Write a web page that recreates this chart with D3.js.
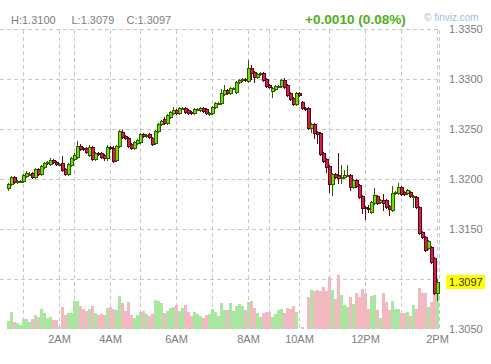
<!DOCTYPE html>
<html>
<head>
<meta charset="utf-8">
<script src="https://cdn.jsdelivr.net/npm/d3@7"></script>
<style>
  body { margin: 0; background: #fff; }
  svg { display: block; font-family: Arial, 'Liberation Sans', sans-serif; }
  .grid line { stroke: #c8c8c8; stroke-dasharray: 4,3; shape-rendering: crispEdges; }
  .axis-label { font-size: 11px; fill: #7c7c7c; }
  .head-label { font-size: 11px; fill: #7c7c7c; }
</style>
</head>
<body>
<div id="chart"></div>
<script>
// 5-minute EUR/USD bars (bar index order)
const opens = [
  1.3191,1.3195,1.3202,1.3197,1.3198,1.3198,1.3203,1.3205,1.3206,1.3202,
  1.3210,1.3205,1.3212,1.3216,1.3215,1.3219,1.3217,1.3215,1.3216,1.3210,
  1.3205,1.3214,1.3220,1.3222,1.3233,1.3231,1.3231,1.3224,1.3232,1.3220,
  1.3226,1.3226,1.3224,1.3221,1.3232,1.3231,1.3219,1.3233,1.3247,1.3243,
  1.3241,1.3235,1.3231,1.3236,1.3237,1.3245,1.3243,1.3245,1.3241,1.3236,
  1.3248,1.3255,1.3260,1.3256,1.3262,1.3266,1.3269,1.3266,1.3271,1.3271,
  1.3269,1.3267,1.3266,1.3270,1.3269,1.3271,1.3270,1.3266,1.3266,1.3272,
  1.3276,1.3276,1.3285,1.3289,1.3286,1.3291,1.3287,1.3297,1.3299,1.3300,
  1.3298,1.3311,1.3307,1.3302,1.3305,1.3306,1.3300,1.3294,1.3288,1.3290,
  1.3293,1.3293,1.3299,1.3294,1.3286,1.3281,1.3275,1.3286,1.3277,1.3271,
  1.3271,1.3251,1.3255,1.3247,1.3246,1.3226,1.3220,1.3213,1.3195,1.3205,
  1.3204,1.3202,1.3202,1.3204,1.3204,1.3192,1.3199,1.3194,1.3183,1.3172,
  1.3171,1.3167,1.3176,1.3183,1.3177,1.3179,1.3179,1.3173,1.3169,1.3186,
  1.3186,1.3192,1.3187,1.3186,1.3187,1.3183,1.3182,1.3172,1.3147,1.3142,
  1.3131,1.3132,1.3121,1.3086
];
const highs = [
  1.3196,1.3203,1.3203,1.3199,1.3199,1.3205,1.3208,1.3207,1.3207,1.3211,
  1.3211,1.3214,1.3217,1.3218,1.3221,1.3220,1.3218,1.3216,1.3223,1.3211,
  1.3216,1.3222,1.3226,1.3238,1.3235,1.3232,1.3232,1.3234,1.3233,1.3227,
  1.3227,1.3227,1.3225,1.3234,1.3233,1.3233,1.3234,1.3249,1.3249,1.3244,
  1.3242,1.3236,1.3238,1.3240,1.3246,1.3246,1.3245,1.3246,1.3242,1.3249,
  1.3256,1.3259,1.3262,1.3265,1.3268,1.3272,1.3270,1.3272,1.3272,1.3272,
  1.3270,1.3268,1.3271,1.3271,1.3272,1.3272,1.3271,1.3267,1.3273,1.3277,
  1.3277,1.3290,1.3294,1.3290,1.3292,1.3292,1.3298,1.3300,1.3301,1.3301,
  1.3319,1.3314,1.3308,1.3306,1.3307,1.3307,1.3301,1.3295,1.3292,1.3294,
  1.3294,1.3300,1.3301,1.3295,1.3287,1.3282,1.3287,1.3287,1.3278,1.3272,
  1.3272,1.3256,1.3256,1.3248,1.3247,1.3227,1.3221,1.3214,1.3206,1.3206,
  1.3226,1.3214,1.3209,1.3214,1.3205,1.3200,1.3200,1.3195,1.3184,1.3173,
  1.3174,1.3178,1.3191,1.3184,1.3180,1.3185,1.3180,1.3174,1.3193,1.3188,
  1.3196,1.3193,1.3188,1.3190,1.3188,1.3184,1.3183,1.3173,1.3148,1.3143,
  1.3139,1.3133,1.3122,1.3100
];
const lows = [
  1.3189,1.3194,1.3196,1.3196,1.3197,1.3197,1.3202,1.3204,1.3201,1.3201,
  1.3204,1.3204,1.3211,1.3215,1.3214,1.3216,1.3214,1.3214,1.3208,1.3204,
  1.3204,1.3213,1.3219,1.3221,1.3229,1.3229,1.3226,1.3223,1.3219,1.3219,
  1.3224,1.3221,1.3219,1.3219,1.3230,1.3217,1.3218,1.3232,1.3241,1.3240,
  1.3232,1.3230,1.3230,1.3235,1.3236,1.3242,1.3242,1.3241,1.3234,1.3235,
  1.3247,1.3254,1.3255,1.3255,1.3261,1.3265,1.3265,1.3265,1.3270,1.3266,
  1.3265,1.3265,1.3265,1.3269,1.3268,1.3267,1.3265,1.3264,1.3265,1.3271,
  1.3275,1.3275,1.3284,1.3285,1.3285,1.3290,1.3286,1.3296,1.3298,1.3298,
  1.3297,1.3300,1.3297,1.3301,1.3304,1.3298,1.3292,1.3291,1.3282,1.3289,
  1.3292,1.3292,1.3291,1.3283,1.3279,1.3274,1.3274,1.3283,1.3270,1.3269,
  1.3250,1.3247,1.3241,1.3236,1.3224,1.3217,1.3207,1.3187,1.3184,1.3201,
  1.3196,1.3196,1.3201,1.3203,1.3189,1.3191,1.3192,1.3181,1.3166,1.3160,
  1.3167,1.3166,1.3175,1.3175,1.3176,1.3169,1.3171,1.3164,1.3168,1.3185,
  1.3185,1.3184,1.3184,1.3185,1.3182,1.3172,1.3171,1.3145,1.3141,1.3128,
  1.3130,1.3116,1.3085,1.3079
];
const closes = [
  1.3195,1.3202,1.3197,1.3198,1.3198,1.3204,1.3206,1.3205,1.3202,1.3210,
  1.3205,1.3213,1.3216,1.3217,1.3219,1.3217,1.3215,1.3215,1.3209,1.3205,
  1.3215,1.3221,1.3224,1.3233,1.3230,1.3230,1.3227,1.3232,1.3220,1.3226,
  1.3225,1.3222,1.3221,1.3232,1.3231,1.3218,1.3233,1.3248,1.3242,1.3241,
  1.3233,1.3231,1.3237,1.3239,1.3245,1.3243,1.3244,1.3242,1.3235,1.3248,
  1.3255,1.3258,1.3256,1.3264,1.3267,1.3269,1.3266,1.3271,1.3271,1.3267,
  1.3266,1.3266,1.3270,1.3270,1.3271,1.3268,1.3266,1.3266,1.3272,1.3276,
  1.3276,1.3286,1.3289,1.3286,1.3291,1.3291,1.3297,1.3299,1.3300,1.3299,
  1.3311,1.3306,1.3302,1.3305,1.3306,1.3299,1.3293,1.3292,1.3291,1.3293,
  1.3293,1.3299,1.3292,1.3284,1.3280,1.3275,1.3286,1.3284,1.3271,1.3270,
  1.3251,1.3255,1.3246,1.3245,1.3225,1.3218,1.3212,1.3195,1.3205,1.3202,
  1.3201,1.3202,1.3204,1.3204,1.3192,1.3199,1.3193,1.3182,1.3171,1.3171,
  1.3170,1.3177,1.3184,1.3176,1.3179,1.3176,1.3172,1.3170,1.3186,1.3187,
  1.3192,1.3185,1.3185,1.3189,1.3183,1.3183,1.3172,1.3146,1.3142,1.3129,
  1.3138,1.3117,1.3086,1.3097
];
const volumes = [
  8,17,7,6,4,10,10,7,10,14,
  12,20,16,11,12,9,9,2,22,14,
  16,16,28,28,23,20,18,20,23,16,
  14,15,14,21,22,20,19,33,26,18,
  27,14,11,14,17,18,15,13,15,29,
  28,26,16,18,21,22,24,18,21,24,
  17,13,17,15,13,11,14,15,20,17,
  13,26,19,19,26,18,23,25,23,19,
  27,28,21,16,12,16,17,17,12,15,
  19,20,16,21,20,23,17,0,2,0,
  32,39,38,39,38,42,38,52,39,30,
  54,34,24,22,32,25,36,32,40,36,
  20,33,34,19,11,36,27,19,28,20,
  20,16,16,17,13,24,20,41,36,36,
  22,27,36,42
];

// hour gridlines, as bar index of the bar that opens each hour
const hourBars = [5, 17, 22, 34, 44, 56, 68, 80, 87, 97, 107, 119, 131, 143];
const hourLabels = ['', '2AM', '', '4AM', '', '6AM', '', '8AM', '', '10AM', '', '12PM', '', '2PM'];
const priceTicks = [1.3100, 1.3150, 1.3200, 1.3250, 1.3300, 1.3350];
const priceLabels = [1.3050, 1.3100, 1.3150, 1.3200, 1.3250, 1.3300, 1.3350];
const dayChange = 0.0010;
const dayChangePct = 0.08;

class CandleChart {

  constructor(_config, _data) {
    this.config = {
      parentElement: _config.parentElement,
      containerWidth: 491,
      containerHeight: 364,
      plotLeft: 6.8,
      barStep: 3,
      priceRange: [329.3, 29.3],
      priceDomain: [1.3050, 1.3350],
      volBase: 329,
      volMaxPx: 60,
      upFill: '#6ee000', upLine: '#2c5f00',
      downFill: '#d5203f', downLine: '#55081a',
      upVol: '#a9e6a1', downVol: '#f2bac0'
    };
    this.data = _data;
    this.initVis();
  }

  initVis() {
    let vis = this;
    const c = vis.config;

    vis.svg = d3.select(c.parentElement).append('svg')
        .attr('width', c.containerWidth)
        .attr('height', c.containerHeight);

    vis.xScale = d3.scaleBand()
        .domain(d3.range(vis.data.length))
        .range([c.plotLeft, c.plotLeft + c.barStep * vis.data.length]);

    vis.yScale = d3.scaleLinear()
        .domain(c.priceDomain)
        .range(c.priceRange);

    vis.volScale = d3.scaleLinear()
        .domain([0, c.volMaxPx])
        .range([c.volBase, c.volBase - c.volMaxPx]);

    vis.gridG = vis.svg.append('g').attr('class', 'grid');
    vis.volG = vis.svg.append('g');
    vis.candleG = vis.svg.append('g');
    vis.labelG = vis.svg.append('g');

    vis.renderVis();
  }

  cx(i) {
    return Math.round(this.xScale(i) + this.xScale.bandwidth() / 2) + 0.5;
  }

  renderVis() {
    let vis = this;
    const c = vis.config;
    const right = Math.round(vis.xScale.range()[1]) + 0.5;
    const top = Math.round(vis.yScale(1.3350)) + 0.5;
    const last = vis.data[vis.data.length - 1];
    const lastY = vis.yScale(last.close);

    // horizontal price grid
    vis.gridG.selectAll('.hgrid')
        .data(priceTicks)
      .join('line')
        .attr('class', 'hgrid')
        .attr('x1', 0).attr('x2', right)
        .attr('y1', d => Math.round(vis.yScale(d)) + 0.5)
        .attr('y2', d => Math.round(vis.yScale(d)) + 0.5);

    // vertical hour grid + right border
    vis.gridG.selectAll('.vgrid')
        .data(hourBars)
      .join('line')
        .attr('class', 'vgrid')
        .attr('x1', d => vis.cx(d)).attr('x2', d => vis.cx(d))
        .attr('y1', top).attr('y2', c.volBase);

    vis.gridG.append('line')
        .attr('x1', right).attr('x2', right)
        .attr('y1', top).attr('y2', c.volBase);

    // volume
    vis.volG.selectAll('rect')
        .data(vis.data)
      .join('rect')
        .attr('x', (d, i) => Math.round(vis.xScale(i)))
        .attr('width', 3)
        .attr('y', d => vis.volScale(d.volume))
        .attr('height', d => c.volBase - vis.volScale(d.volume))
        .attr('fill', d => d.close >= d.open ? c.upVol : c.downVol)
        .attr('shape-rendering', 'crispEdges');

    // wicks
    vis.candleG.selectAll('.wick')
        .data(vis.data)
      .join('line')
        .attr('class', 'wick')
        .attr('x1', (d, i) => vis.cx(i)).attr('x2', (d, i) => vis.cx(i))
        .attr('y1', d => Math.round(vis.yScale(d.high)))
        .attr('y2', d => Math.round(vis.yScale(d.low)) + 1)
        .attr('stroke', d => d.close >= d.open ? c.upLine : c.downLine)
        .attr('shape-rendering', 'crispEdges');

    // bodies
    vis.candleG.selectAll('.body')
        .data(vis.data)
      .join('rect')
        .attr('class', 'body')
        .attr('x', (d, i) => vis.cx(i) - 1.5)
        .attr('width', 3)
        .attr('y', d => Math.round(vis.yScale(Math.max(d.open, d.close))) + 0.5)
        .attr('height', d => Math.max(1, Math.round(Math.abs(vis.yScale(d.open) - vis.yScale(d.close)))))
        .attr('fill', d => d.close >= d.open ? c.upFill : c.downFill)
        .attr('stroke', d => d.close >= d.open ? c.upLine : c.downLine)
        .attr('stroke-width', 1)
        .attr('shape-rendering', 'crispEdges');

    // price axis labels on the right (the last-price tag hides the one it covers)
    vis.labelG.selectAll('.ylab')
        .data(priceLabels.filter(d => Math.abs(vis.yScale(d) - lastY) > 12))
      .join('text')
        .attr('class', 'axis-label ylab')
        .attr('x', 449)
        .attr('y', d => vis.yScale(d))
        .attr('dy', '0.35em')
        .text(d => d.toFixed(4));

    // last price tag
    vis.labelG.append('rect')
        .attr('x', 446).attr('y', Math.round(lastY) - 7)
        .attr('width', 39).attr('height', 14)
        .attr('fill', '#ffff00');
    vis.labelG.append('text')
        .attr('x', 449)
        .attr('y', lastY)
        .attr('dy', '0.35em')
        .style('font-size', '11px')
        .attr('fill', '#333')
        .text(last.close.toFixed(4));

    // hour labels
    vis.labelG.selectAll('.xlab')
        .data(hourBars.map((b, k) => ({bar: b, label: hourLabels[k]})).filter(d => d.label))
      .join('text')
        .attr('class', 'axis-label xlab')
        .attr('x', d => vis.cx(d.bar))
        .attr('y', 343)
        .attr('text-anchor', 'middle')
        .text(d => d.label);

    // header
    const head = [
      {x: 11, t: `H:${last.high.toFixed(4)}`},
      {x: 71.5, t: `L:${last.low.toFixed(4)}`},
      {x: 126.5, t: `C:${last.close.toFixed(4)}`}
    ];
    vis.labelG.selectAll('.head')
        .data(head)
      .join('text')
        .attr('class', 'head-label head')
        .attr('x', d => d.x).attr('y', 23.5)
        .text(d => d.t);

    vis.labelG.append('text')
        .attr('x', 305).attr('y', 24)
        .style('font-size', '13.6px').style('font-weight', 'bold')
        .attr('fill', '#52ad1c')
        .text(`+${dayChange.toFixed(4)} (${dayChangePct.toFixed(2)}%)`);

    vis.labelG.append('text')
        .attr('x', 424).attr('y', 21)
        .style('font-size', '10px')
        .attr('fill', '#a2bde0')
        .text('\u00a9 finviz.com');
  }
}

const bars = opens.map((o, i) => ({
  open: o, high: highs[i], low: lows[i], close: closes[i], volume: volumes[i]
}));

new CandleChart({parentElement: '#chart'}, bars);
</script>
</body>
</html>
